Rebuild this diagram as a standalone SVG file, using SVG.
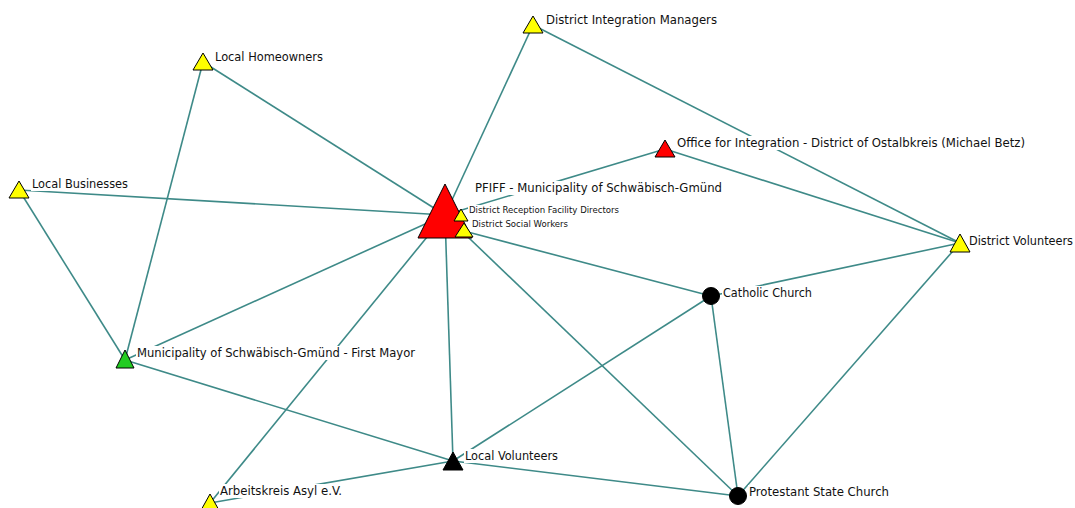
<svg xmlns="http://www.w3.org/2000/svg" width="1075" height="508" viewBox="0 0 1075 508">
<style>
.e{stroke:#3e8a88;stroke-width:1.6;fill:none}
.n{stroke:#000;stroke-width:1}
.y{fill:#ffff00}.r{fill:#ff0000}.g{fill:#22cc22}.k{fill:#000}
.t{font-family:Tahoma,"DejaVu Sans Condensed","Liberation Sans",sans-serif;font-size:12px;fill:#111}
.s{font-size:9px}
.bg{fill:#fff}
</style>
<rect width="1075" height="508" fill="#fff"/>
<g id="connectors">
<line class="e" x1="445" y1="215" x2="203" y2="62"/>
<line class="e" x1="445" y1="215" x2="533" y2="25"/>
<line class="e" x1="445" y1="215" x2="665" y2="149"/>
<line class="e" x1="445" y1="215" x2="19" y2="190"/>
<line class="e" x1="445" y1="215" x2="125" y2="360"/>
<line class="e" x1="445" y1="215" x2="210" y2="503"/>
<line class="e" x1="445" y1="215" x2="453" y2="461"/>
<line class="e" x1="445" y1="215" x2="738" y2="496"/>
<line class="e" x1="464" y1="231" x2="711" y2="296"/>
<line class="e" x1="533" y1="25" x2="960" y2="243"/>
<line class="e" x1="665" y1="149" x2="960" y2="243"/>
<line class="e" x1="711" y1="296" x2="960" y2="243"/>
<line class="e" x1="738" y1="496" x2="960" y2="243"/>
<line class="e" x1="711" y1="296" x2="738" y2="496"/>
<line class="e" x1="711" y1="296" x2="453" y2="461"/>
<line class="e" x1="453" y1="461" x2="738" y2="496"/>
<line class="e" x1="453" y1="461" x2="210" y2="503"/>
<line class="e" x1="19" y1="190" x2="125" y2="360"/>
<line class="e" x1="203" y1="62" x2="125" y2="360"/>
<line class="e" x1="125" y1="360" x2="453" y2="461"/>
</g>
<g id="n-lh"><polygon class="n y" points="203,53 213,70 193,70"/><rect class="bg" x="214" y="50" width="110" height="14"/><text class="t" x="215" y="61" textLength="108" lengthAdjust="spacingAndGlyphs">Local Homeowners</text></g>
<g id="n-dim"><polygon class="n y" points="533,16 543,33 523,33"/><rect class="bg" x="545" y="13" width="174" height="14"/><text class="t" x="546" y="24" textLength="171" lengthAdjust="spacingAndGlyphs">District Integration Managers</text></g>
<g id="n-lb"><polygon class="n y" points="19,181 29,198 9,198"/><rect class="bg" x="31" y="177" width="98" height="14"/><text class="t" x="32" y="188" textLength="96" lengthAdjust="spacingAndGlyphs">Local Businesses</text></g>
<g id="n-office"><polygon class="n r" points="665,140 675,157 655,157"/><rect class="bg" x="676" y="136" width="351" height="14"/><text class="t" x="677" y="147" textLength="348" lengthAdjust="spacingAndGlyphs">Office for Integration - District of Ostalbkreis (Michael Betz)</text></g>
<g id="n-pfiff"><polygon class="n r" points="445,184 472,238 418,238"/><rect class="bg" x="474" y="181" width="250" height="14"/><text class="t" x="475" y="192" textLength="247" lengthAdjust="spacingAndGlyphs">PFIFF - Municipality of Schwäbisch-Gmünd</text></g>
<g id="n-drfd"><polygon class="n y" points="461,209 468,221 454,221"/><rect class="bg" x="468" y="205" width="152" height="11"/><text class="t s" x="469" y="213" textLength="150" lengthAdjust="spacingAndGlyphs">District Reception Facility Directors</text></g>
<g id="n-dsw"><polygon class="n y" points="464,223 473,237 455,237"/><rect class="bg" x="471" y="219" width="98" height="11"/><text class="t s" x="472" y="227" textLength="96" lengthAdjust="spacingAndGlyphs">District Social Workers</text></g>
<g id="n-dv"><polygon class="n y" points="960,234 970,252 950,252"/><rect class="bg" x="968" y="234" width="106" height="14"/><text class="t" x="969" y="245" textLength="104" lengthAdjust="spacingAndGlyphs">District Volunteers</text></g>
<g id="n-cath"><circle class="n k" cx="711" cy="296" r="8.5"/><rect class="bg" x="722" y="286" width="91" height="14"/><text class="t" x="723" y="297" textLength="89" lengthAdjust="spacingAndGlyphs">Catholic Church</text></g>
<g id="n-mayor"><polygon class="n g" points="125,350 134,368 116,368"/><rect class="bg" x="136" y="346" width="281" height="14"/><text class="t" x="137" y="357" textLength="278" lengthAdjust="spacingAndGlyphs">Municipality of Schwäbisch-Gmünd - First Mayor</text></g>
<g id="n-lv"><polygon class="n k" points="453,452 463,470 443,470"/><rect class="bg" x="464" y="449" width="96" height="14"/><text class="t" x="465" y="460" textLength="93" lengthAdjust="spacingAndGlyphs">Local Volunteers</text></g>
<g id="n-ak"><polygon class="n y" points="210,494 220,512 200,512"/><rect class="bg" x="219" y="484" width="125" height="14"/><text class="t" x="220" y="495" textLength="122" lengthAdjust="spacingAndGlyphs">Arbeitskreis Asyl e.V.</text></g>
<g id="n-prot"><circle class="n k" cx="738" cy="496" r="8.5"/><rect class="bg" x="748" y="485" width="143" height="14"/><text class="t" x="749" y="496" textLength="140" lengthAdjust="spacingAndGlyphs">Protestant State Church</text></g>
</svg>
